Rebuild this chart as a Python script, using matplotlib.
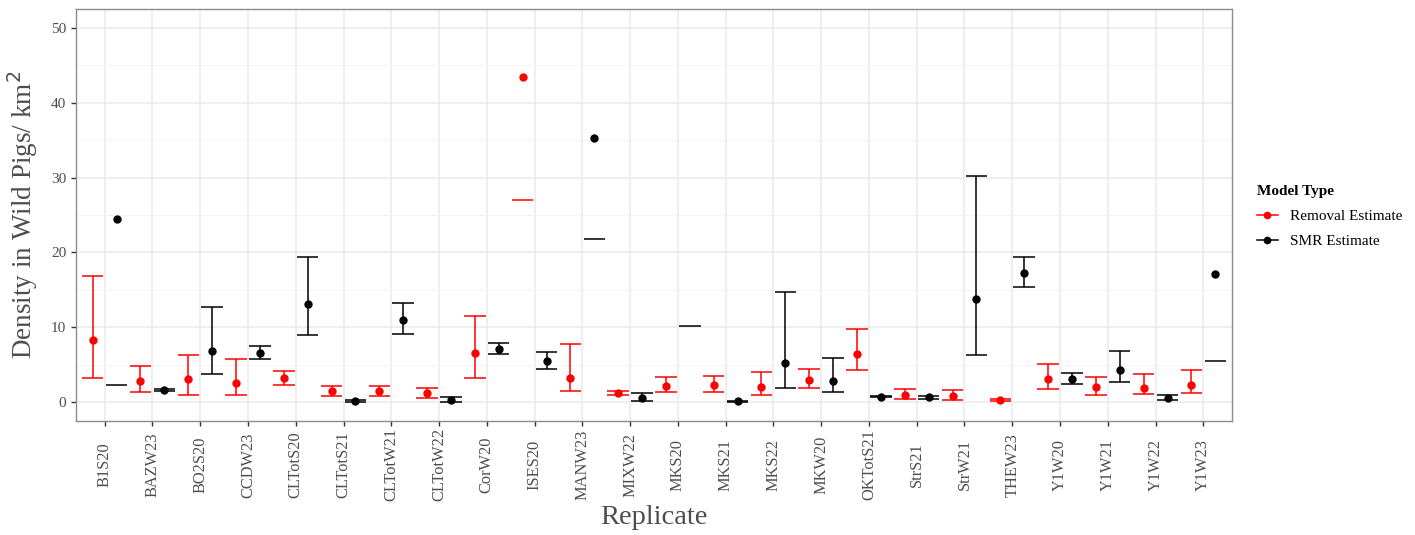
import numpy as np
import matplotlib
matplotlib.use("Agg")
import matplotlib.pyplot as plt
from matplotlib.lines import Line2D

plt.rcParams['font.family'] = ['Liberation Serif', 'DejaVu Serif']

replicates = ["B1S20", "BAZW23", "BO2S20", "CCDW23", "CLTotS20", "CLTotS21", "CLTotW21",
              "CLTotW22", "CorW20", "ISES20", "MANW23", "MIXW22", "MKS20", "MKS21", "MKS22",
              "MKW20", "OKTotS21", "StrS21", "StrW21", "THEW23", "Y1W20", "Y1W21", "Y1W22", "Y1W23"]

nan = np.nan
removal_est = [8.37, 2.80, 3.16, 2.63, 3.20, 1.47, 1.47, 1.20, 6.64, 43.4, 3.30, 1.20,
               2.23, 2.32, 2.06, 2.99, 6.41, 0.93, 0.85, 0.27, 3.16, 2.00, 1.96, 2.36]
removal_lo = [3.26, 1.39, 1.03, 1.03, 2.32, 0.90, 0.85, 0.63, 3.28, 26.97, 1.56, 0.93,
              1.39, 1.39, 0.93, 1.96, 4.27, 0.45, 0.36, 0.13, 1.83, 1.03, 1.16, 1.25]
removal_hi = [16.8, 4.90, 6.37, 5.83, 4.23, 2.14, 2.23, 1.96, 11.46, nan, 7.74, 1.47,
              3.39, 3.56, 4.00, 4.41, 9.84, 1.74, 1.65, 0.40, 5.17, 3.34, 3.83, 4.33]

smr_est = [24.5, 1.65, 6.90, 6.59, 13.18, 0.13, 11.04, 0.32, 7.13, 5.47, 35.3, 0.58,
           nan, 0.13, 5.20, 2.86, 0.72, 0.67, 13.85, 17.32, 3.12, 4.33, 0.58, 17.09]
smr_lo = [2.27, 1.52, 3.74, 5.83, 9.00, 0.05, 9.17, 0.05, 6.41, 4.50, 21.86, 0.23,
          10.2, 0.08, 1.87, 1.43, 0.67, 0.45, 6.37, 15.40, 2.45, 2.72, 0.36, 5.47]
smr_hi = [nan, 1.80, 12.74, 7.48, 19.36, 0.27, 13.31, 0.72, 7.88, 6.68, nan, 1.30,
          nan, 0.20, 14.69, 5.87, 0.85, 0.85, 30.17, 19.45, 3.87, 6.90, 0.93, nan]

series = [("Removal Estimate", "#FF0000", removal_est, removal_lo, removal_hi, -0.25),
          ("SMR Estimate", "#000000", smr_est, smr_lo, smr_hi, 0.25)]

fig = plt.figure(figsize=(14.15, 5.35), dpi=100)
ax = fig.add_axes([76/1415, 1-421/535, (1232-76)/1415, (421-9)/535])

x = np.arange(1, len(replicates)+1)
capw = 0.225
for name, col, est, lo, hi, off in series:
    est = np.array(est, float); lo = np.array(lo, float); hi = np.array(hi, float)
    xs = x + off
    both = np.isfinite(lo) & np.isfinite(hi)
    ax.vlines(xs[both], lo[both], hi[both], color=col, lw=1.1, zorder=3)
    m = np.isfinite(lo)
    ax.hlines(lo[m], xs[m]-capw, xs[m]+capw, color=col, lw=1.1, zorder=3)
    m = np.isfinite(hi)
    ax.hlines(hi[m], xs[m]-capw, xs[m]+capw, color=col, lw=1.1, zorder=3)
    m = np.isfinite(est)
    ax.plot(xs[m], est[m], 'o', color=col, ms=5, zorder=4)

ax.set_xlim(0.4, len(replicates)+0.6)
ax.set_ylim(-2.5, 52.5)
ax.set_xticks(x)
ax.set_xticklabels(replicates, rotation=90, fontsize=11.8, color='#4D4D4D')
for lbl in ax.get_xticklabels():
    lbl.set_va('center')
ax.set_yticks([0, 10, 20, 30, 40, 50])
ax.set_yticks([5, 15, 25, 35, 45], minor=True)
ax.tick_params(axis='y', which='minor', length=0)
ax.tick_params(axis='both', which='major', length=3.5, width=1, color='#333333', labelcolor='#4D4D4D')
ax.tick_params(axis='y', labelsize=11)
ax.tick_params(axis='x', pad=28)
ax.grid(True, which='major', color='#EBEBEB', lw=1.1, zorder=0)
ax.grid(True, which='minor', axis='y', color='#F3F3F3', lw=0.6, zorder=0)
ax.set_axisbelow(True)
for s in ax.spines.values():
    s.set_color('#8C8C8C')
    s.set_linewidth(1.0)

ax.set_xlabel("Replicate", fontsize=20.5, color='#4D4D4D', labelpad=3)
ax.set_ylabel("Density in Wild Pigs/ km$^2$", fontsize=19.5, color='#4D4D4D', labelpad=8)

handles = [Line2D([0], [0], color=c, lw=1.1, marker='o', ms=4.5) for _, c, *_ in series]
leg = fig.legend(handles, [s[0] for s in series], title="Model Type", loc='upper left',
                 bbox_to_anchor=(1243/1415, 1-171/535), frameon=False, fontsize=11,
                 title_fontsize=11, handlelength=1.4, alignment='left', labelspacing=0.75)
leg.get_title().set_fontweight('bold')

fig.savefig("out.png", dpi=100)
